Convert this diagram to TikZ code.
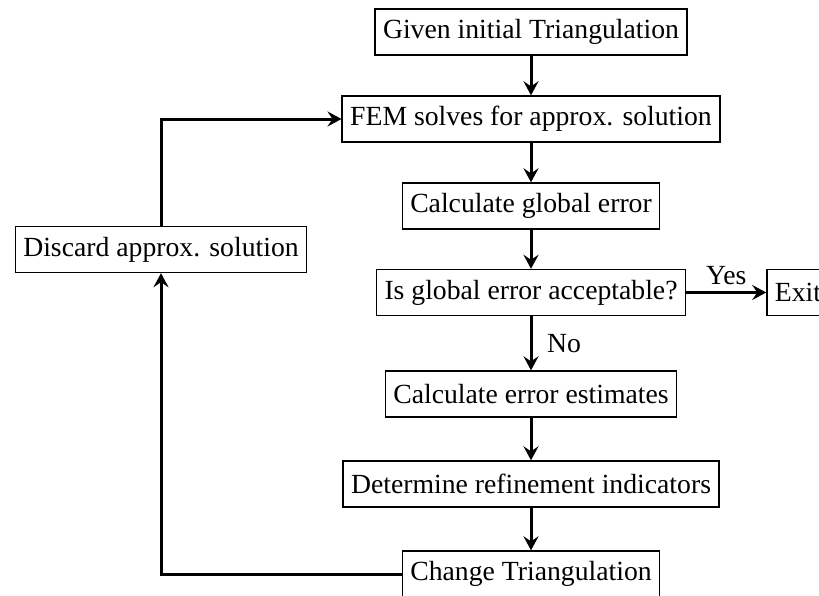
\documentclass[tikz,border=0pt]{standalone}
\usepackage{fontspec}
\setmainfont{Liberation Serif}
\usetikzlibrary{shapes,arrows.meta}
\tikzstyle{block} = [rectangle, draw, line width=0.7pt, text centered, inner xsep=4pt, minimum height=23pt]
\tikzstyle{line} = [draw, line width=1.5pt, -{Stealth[length=7pt,width=7.5pt,inset=2.5pt]}]

\begin{document}
\begin{tikzpicture}[node distance = 43.5pt, auto, font=\fontsize{13.85pt}{16pt}\selectfont]
    \useasboundingbox (0,0) rectangle (409.5pt,-297.5pt);
    % Place nodes
    \node [block] (init) at (265.5pt,-16pt) {Given initial Triangulation};
    \node [block, below of=init] (fem) {FEM solves for approx. solution};
    \node [block, below of=fem] (global) {Calculate global error};
    \node [block, below of=global, node distance=43.25pt] (test) {Is global error acceptable?};
    \node [block, right of=test, node distance=133.5pt] (exit) {Exit};
    \node [block, below of=test, node distance=50.75pt] (estimate) {Calculate error estimates};
    \node [block, below of=estimate, node distance=45pt] (indicator) {Determine refinement indicators};
    \node [block, below of=indicator, node distance=45pt] (change) {Change Triangulation};
    \node [block] (discard) at (80.5pt,-124.75pt) {Discard approx. solution};

    % Draw edges
    \path [line] (init) -- (fem);
    \path [line] (fem) -- (global);
    \path [line] (global) -- (test);
    \path [line] (test) -- node {Yes} (exit);
    \path [line] (test) -- node [xshift=4pt] {No} (estimate);
    \path [line] (estimate) -- (indicator);
    \path [line] (indicator) -- (change);
    \path [line] (change) -| (discard);
    \path [line] (discard) |- (fem);
\end{tikzpicture}
\end{document}
